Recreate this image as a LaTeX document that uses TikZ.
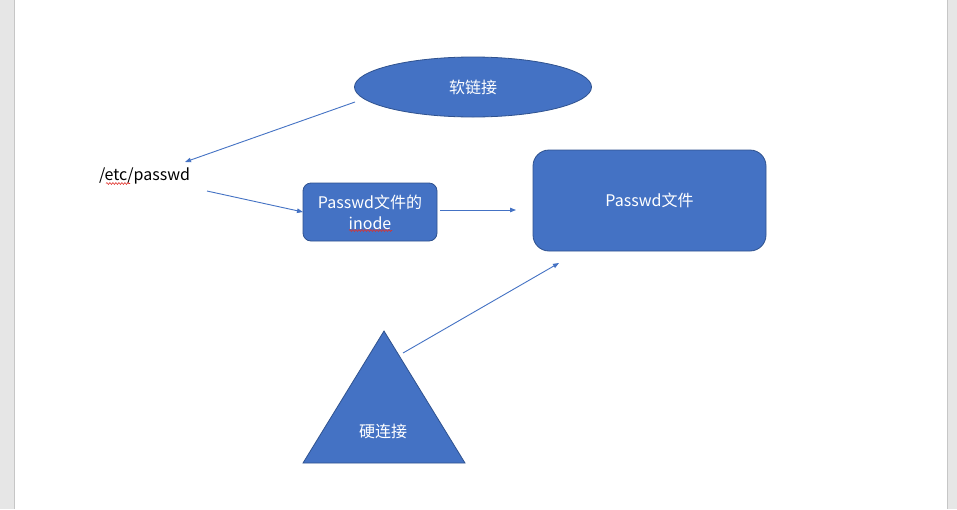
\documentclass[tikz,border=0pt]{standalone}
\usepackage{fontspec}
\setmainfont{Noto Sans CJK SC}
\usetikzlibrary{shapes.geometric,decorations.pathmorphing,arrows.meta}
\definecolor{fillblue}{HTML}{4472C4}
\definecolor{edgeblue}{HTML}{2F528F}
\definecolor{pagegray}{HTML}{E6E6E6}
\definecolor{linegray}{HTML}{C6C6C6}
\definecolor{spellred}{HTML}{E0302A}
\tikzset{
  shapebox/.style={fill=fillblue, draw=edgeblue, line width=0.8pt, text=white, font=\fontsize{16}{21}\selectfont, align=center, inner sep=0pt},
  whitetext/.style={text=white, font=\fontsize{16}{21}\selectfont, inner sep=0pt},
  conn/.style={draw=fillblue, line width=0.9pt, -{Triangle[length=6pt,width=4.5pt]}},
  wavy/.style={draw=spellred, line width=0.6pt, decorate, decoration={snake, amplitude=0.9pt, segment length=3pt}}
}
\begin{document}
\begin{tikzpicture}[x=1pt,y=-1pt]
\useasboundingbox (0,0) rectangle (957,509);
\fill[white] (0,0) rectangle (957,509);
\fill[pagegray] (0,0) rectangle (14,509);
\draw[linegray, line width=1.2pt] (14.5,0) -- (14.5,509);
\fill[pagegray] (948,0) rectangle (957,509);
\draw[linegray, line width=1.2pt] (947.5,0) -- (947.5,509);

\node[shapebox, ellipse, minimum width=237pt, minimum height=60pt] (soft) at (473,87) {软链接};
\node[shapebox, rounded corners=8pt, minimum width=134pt, minimum height=58pt] (inode) at (370,212) {Passwd文件的\\inode};
\node[shapebox, rounded corners=16pt, minimum width=233pt, minimum height=101pt] (file) at (649.5,200.5) {Passwd文件};
\fill[fillblue, draw=edgeblue, line width=0.8pt] (303,463) -- (384,331) -- (465,463) -- cycle;
\node[whitetext] (hard) at (383,431) {硬连接};
\node[inner sep=0pt, font=\fontsize{16}{21}\selectfont] (path) at (144.5,176) {/etc/passwd};

\coordinate (a1s) at (355,102);
\coordinate (a1e) at (185,162);
\coordinate (a2s) at (207,191);
\coordinate (a2e) at (303,212);
\coordinate (a3s) at (440,210);
\coordinate (a3e) at (516,210);
\coordinate (a4s) at (403,353);
\coordinate (a4e) at (559,263);
\draw[conn] (a1s) -- (a1e);
\draw[conn] (a2s) -- (a2e);
\draw[conn] (a3s) -- (a3e);
\draw[conn] (a4s) -- (a4e);

\coordinate (w1s) at (106,183.5);
\coordinate (w1e) at (130,183.5);
\coordinate (w2s) at (349,230.5);
\coordinate (w2e) at (392,230.5);
\draw[wavy] (w1s) -- (w1e);
\draw[wavy] (w2s) -- (w2e);
\end{tikzpicture}
\end{document}
